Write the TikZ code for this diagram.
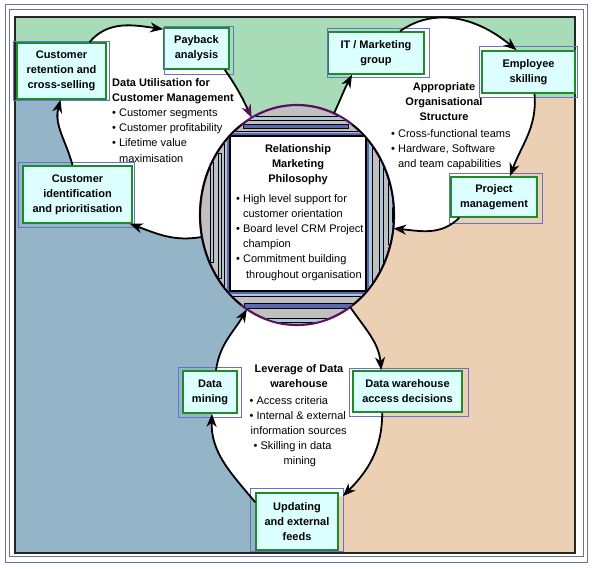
\documentclass[tikz,border=0pt]{standalone}
\usepackage{fontspec}
\setmainfont{Liberation Sans}
\usetikzlibrary{shapes.geometric,arrows.meta,calc}
\definecolor{bggreen}{HTML}{A8DCB8}
\definecolor{bgblue}{HTML}{94B4C8}
\definecolor{bgpeach}{HTML}{ECD0B4}
\definecolor{boxfill}{HTML}{DCFFFF}
\definecolor{boxgreen}{HTML}{1E8C28}
\definecolor{frameblue}{HTML}{6472CC}
\definecolor{outerframe}{HTML}{6A70A0}
\definecolor{ellgray}{HTML}{C0C0C0}
\definecolor{barblue}{HTML}{5A68B4}
\definecolor{barlight}{HTML}{A8C8D8}
\definecolor{rimpurple}{HTML}{5A105E}
\pgfdeclarelayer{back}
\pgfsetlayers{back,main}
\begin{document}
\begin{tikzpicture}[x=1pt,y=1pt,
  box/.style={draw=boxgreen, line width=1.6pt, fill=boxfill, align=center,
    font=\bfseries\fontsize{11}{15}\selectfont, inner sep=0pt},
  blueframe/.style={draw=frameblue, line width=0.7pt},
  arr/.style={line width=1.8pt, -{Stealth[length=13pt,width=10pt,inset=4pt]}},
  txt/.style={font=\fontsize{11}{15.2}\selectfont, inner sep=0pt},
  bar/.style={draw=black, line width=0.5pt}]
\useasboundingbox (0,0) rectangle (592,568);
% centre ellipse
\node[ellipse, minimum width=194pt, minimum height=220pt, inner sep=0pt, outer sep=0pt,
  fill=ellgray, draw=rimpurple, line width=2.2pt] (phil) at (297,353) {};
\begin{scope}
\clip (297,353) ellipse [x radius=96, y radius=109];
\draw[bar, fill=barlight] (210,306) rectangle (213,406);
\draw[bar, fill=barlight] (218,290) rectangle (221,415);
\draw[bar, fill=barlight] (379,297) rectangle (383,416);
\draw[bar, fill=barlight] (388,324) rectangle (392,406);
\draw[bar, fill=barlight] (243,448) rectangle (347,452);
\draw[bar, fill=barblue] (243,440) rectangle (348,444);
\draw[bar, fill=barblue] (244,260) rectangle (356,265);
\draw[bar, fill=barlight] (265,246) rectangle (328,250);
\draw[bar, fill=barlight] (224,272) rectangle (372,437);
\fill[barblue] (227,274) rectangle (369,435);
\draw[line width=1.5pt, fill=white] (230,277) rectangle (366,432);
\end{scope}
\draw[line width=1.6pt] ([shift={(125:97 and 110)}]297,353) arc[start angle=125, end angle=235, x radius=97, y radius=110];
\draw[line width=1.6pt] ([shift={(-55:97 and 110)}]297,353) arc[start angle=-55, end angle=55, x radius=97, y radius=110];
% texts
\node[txt, anchor=north west, align=left] (lefttxt) at (112,490)
  {\textbf{Data Utilisation for}\\\textbf{Customer Management}\\%
   • Customer segments\\• Customer profitability\\• Lifetime value\\\hphantom{• }maximisation};
\node[txt, anchor=north, align=center, font=\bfseries\fontsize{11}{15}\selectfont] (righthead) at (444,486)
  {Appropriate\\Organisational\\Structure};
\node[txt, anchor=north west, align=left] (righttxt) at (391,439)
  {• Cross-functional teams\\• Hardware, Software\\\hphantom{• }and team capabilities};
\node[txt, anchor=north, align=center, font=\bfseries\fontsize{11}{15.2}\selectfont] (centrehead) at (298,424)
  {Relationship\\Marketing\\Philosophy};
\node[txt, anchor=north west, align=left] (centretxt) at (236,374)
  {• High level support for\\\hphantom{• }customer orientation\\• Board level CRM Project\\%
   \hphantom{• }champion\\• Commitment building\\\hphantom{• }\hspace{3pt}throughout organisation};
\node[txt, anchor=north, align=center, font=\bfseries\fontsize{11}{15}\selectfont] (bottomhead) at (299,204)
  {Leverage of Data\\warehouse};
\node[txt, anchor=north west, align=left] (bottomtxt) at (249.5,172)
  {• Access criteria\\• Internal \& external\\\hspace{1pt}information sources\\%
   \hspace{4pt}• Skilling in data\\\hspace{34pt}mining};
% boxes
\node[box, minimum width=89pt, minimum height=56pt] (ret) at (61.5,497) {Customer\\retention and\\cross-selling};
\node[box, minimum width=65pt, minimum height=41pt] (pay) at (196.5,519.5) {Payback\\analysis};
\node[box, minimum width=109pt, minimum height=57pt] (ident) at (77.5,373.5) {Customer\\identification\\and prioritisation};
\node[box, minimum width=96pt, minimum height=42pt] (itm) at (376,515) {IT / Marketing\\group};
\node[box, minimum width=93pt, minimum height=42pt] (emp) at (528.5,496) {Employee\\skilling};
\node[box, minimum width=86pt, minimum height=40pt] (proj) at (494,371) {Project\\management};
\node[box, minimum width=54pt, minimum height=42pt] (dm) at (210,176) {Data\\mining};
\node[box, minimum width=109pt, minimum height=41pt] (dw) at (407.5,176.5) {Data warehouse\\access decisions};
\node[box, minimum width=82pt, minimum height=57pt] (upd) at (297,46.5) {Updating\\and external\\feeds};
% thin blue frames round the boxes
\draw[blueframe] (13,468) rectangle (109,527);
\draw[blueframe] (164,494) rectangle (233,542);
\draw[blueframe] (18,341) rectangle (134,406);
\draw[blueframe] (327,491) rectangle (429,540);
\draw[blueframe] (479,471) rectangle (577,522);
\draw[blueframe] (449,345) rectangle (542,395);
\draw[blueframe] (178,151) rectangle (241,201);
\draw[blueframe] (349,152) rectangle (468,200);
\draw[blueframe] (250,17) rectangle (343,80);
% coordinates on the boxes for the connectors
\coordinate (retA) at ([xshift=28pt]ret.north);
\coordinate (payA) at ([yshift=-2pt]pay.north west);
\coordinate (payB) at ([xshift=-5pt]pay.south east);
\coordinate (idA) at ([xshift=-3pt]ident.south east);
\coordinate (idB) at ([xshift=-5pt]ident.north);
\coordinate (retB) at ([xshift=-1pt]ret.south);
\coordinate (itA) at ([xshift=-24pt]itm.south);
\coordinate (itB) at ([xshift=24pt]itm.north);
\coordinate (empA) at ([xshift=-12pt]emp.north);
\coordinate (empB) at ([xshift=6pt]emp.south);
\coordinate (prA) at ([xshift=16pt]proj.north);
\coordinate (prB) at ([xshift=9pt]proj.south west);
\coordinate (dwA) at ([xshift=29pt]dw.north west);
\coordinate (dwB) at ([xshift=30pt]dw.south west);
\coordinate (upA) at ([shift={(4pt,-4pt)}]upd.north east);
\coordinate (upB) at ([yshift=-10pt]upd.north west);
\coordinate (dmA) at ([xshift=2pt]dm.south);
\coordinate (dmB) at ([xshift=6pt]dm.north);
% background layer
\begin{pgfonlayer}{back}
\draw[outerframe, line width=0.8pt] (5,6) rectangle (587,564);
\draw[outerframe, line width=0.8pt] (9,12) rectangle (583,559);
\fill[bggreen] (15,470) rectangle (575,551);
\fill[bgblue] (15,15) rectangle (298,470);
\fill[bgpeach] (298,15) rectangle (575,470);
\fill[bggreen] (245,440) rectangle (345,471);
\draw[line width=1.5pt, black!85] (15,15) rectangle (575,551);
\fill[white] (retA) to[out=50,in=172] (payA) -- (payB) to[out=-55,in=115] (phil.115)
  -- (phil.center) -- (phil.193) to[out=190,in=-20] (idA) -- (idB) to[out=105,in=-105] (retB) -- cycle;
\fill[white] (phil.70) to[out=65,in=-118] (itA) -- (itB) to[out=35,in=140] (empA) -- (empB)
  to[out=-85,in=70] (prA) -- (prB) to[out=225,in=-5] (phil.-8) -- (phil.center) -- cycle;
\fill[white] (phil.-60) to[out=-55,in=95] (dwA) -- (dwB) to[out=-90,in=45] (upA) -- (upB)
  to[out=130,in=-92] (dmA) -- (dmB) to[out=82,in=-120] (phil.242) -- (phil.center) -- cycle;
\end{pgfonlayer}
% connectors
\draw[arr] (retA) to[out=50,in=172] (payA);
\draw[line width=1.8pt, -{Stealth[length=13pt,width=10pt,inset=4pt,color=rimpurple]}]
  (payB) to[out=-55,in=115] (phil.115);
\draw[arr] (idB) to[out=105,in=-105] (retB);
\draw[arr] (phil.193) to[out=190,in=-20] (idA);
\draw[arr] (phil.70) to[out=65,in=-118] (itA);
\draw[arr] (itB) to[out=35,in=140] (empA);
\draw[arr] (empB) to[out=-85,in=70] (prA);
\draw[arr] (prB) to[out=225,in=-5] (phil.-8);
\draw[arr] (phil.-60) to[out=-55,in=95] (dwA);
\draw[arr] (dwB) to[out=-90,in=45] (upA);
\draw[arr] (upB) to[out=130,in=-92] (dmA);
\draw[arr] (dmB) to[out=82,in=-120] (phil.242);
\end{tikzpicture}
\end{document}
